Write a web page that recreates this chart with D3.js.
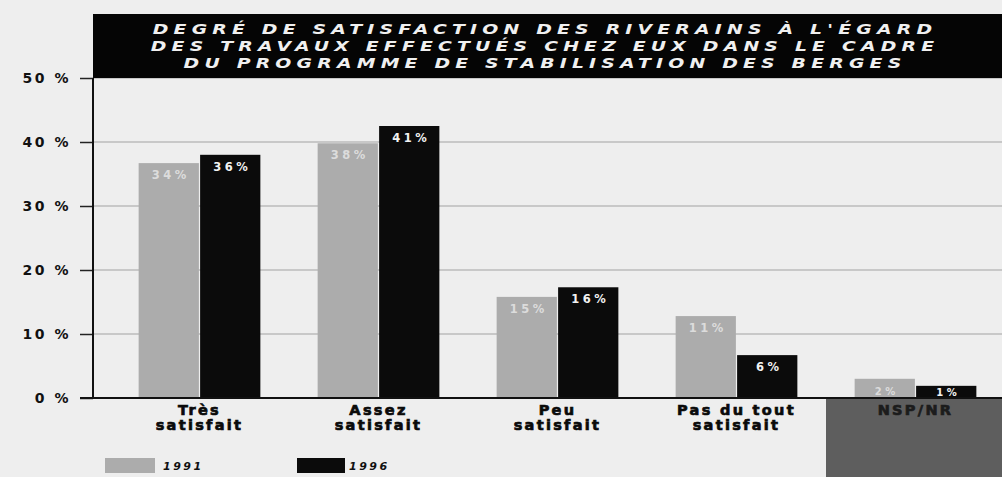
<!DOCTYPE html>
<html lang="fr">
<head>
  <meta charset="UTF-8">
  <title>Degré de satisfaction des riverains</title>
  <script src="https://d3js.org/d3.v7.min.js"></script>
  <style>
    body {
      margin: 0;
      background: #eeeeee;
      font-family: 'DejaVu Sans', sans-serif;
    }
    svg { display: block; }
    .axis text {
      font-family: 'DejaVu Sans', sans-serif;
      font-weight: 700;
      font-size: 14px;
      letter-spacing: 2.5px;
      fill: #111;
    }
    .axis path { display: none; }
    .axis line { stroke: #222; stroke-width: 1.5; }
  </style>
</head>
<body>
  <svg width="1002" height="477"></svg>

  <script>
    // data
    const categories = [["Très", "satisfait"], ["Assez", "satisfait"], ["Peu", "satisfait"], ["Pas du tout", "satisfait"], ["NSP/NR"]];
    const years = ["1991", "1996"];
    // bar heights as drawn in the picture (%)
    const heights1991 = [36.7, 39.8, 15.8, 12.8, 3.0];
    const heights1996 = [38.0, 42.5, 17.3, 6.7, 1.9];
    // printed value labels
    const labels1991 = ["34%", "38%", "15%", "11%", "2%"];
    const labels1996 = ["36%", "41%", "16%", "6%", "1%"];
    const yTicks = [0, 10, 20, 30, 40, 50];
    const titleLines = [
      "DEGRÉ DE SATISFACTION DES RIVERAINS À L'ÉGARD",
      "DES TRAVAUX EFFECTUÉS CHEZ EUX DANS LE CADRE",
      "DU PROGRAMME DE STABILISATION DES BERGES"
    ];

    const colors = { "1991": "#acacac", "1996": "#0b0b0b" };
    const labelColors = { "1991": "#dcdcdc", "1996": "#f2f2f2" };

    const svg = d3.select("svg");
    const plotL = 93, plotR = 1002, plotT = 78, plotB = 398;

    const y = d3.scaleLinear().domain([0, 50]).range([plotB, plotT]);
    const x = d3.scaleBand().domain(d3.range(categories.length))
      .range([110, 1005]).paddingInner(0.32).paddingOuter(0.16);
    const xs = d3.scaleBand().domain(years).range([0, x.bandwidth()]).paddingInner(0.02);

    // scanner shading bottom right
    svg.append("rect")
      .attr("x", 826).attr("y", plotB).attr("width", 176).attr("height", 477 - plotB)
      .attr("fill", "#5e5e5e");

    // gridlines
    svg.append("g").selectAll("line")
      .data(yTicks.slice(1))
      .join("line")
      .attr("x1", plotL).attr("x2", plotR)
      .attr("y1", d => y(d)).attr("y2", d => y(d))
      .attr("stroke", "#a2a2a2").attr("stroke-width", 1.2);

    // title box
    svg.append("rect")
      .attr("x", plotL).attr("y", 14).attr("width", plotR - plotL).attr("height", plotT - 14)
      .attr("fill", "#050505");
    // wide italic lettering: stretch horizontally
    svg.append("g")
      .attr("transform", "translate(545,0) scale(1.3,1)")
      .selectAll("text")
      .data(titleLines)
      .join("text")
      .attr("x", 0)
      .attr("y", (d, i) => 34 + i * 17)
      .attr("text-anchor", "middle")
      .attr("fill", "#f0f0f0")
      .style("font-family", "'DejaVu Sans', sans-serif")
      .style("font-style", "italic")
      .style("font-weight", 700)
      .style("font-size", "14.5px")
      .style("letter-spacing", "4px")
      .text(d => d);

    // y axis
    svg.append("g")
      .attr("class", "axis")
      .attr("transform", `translate(${plotL},0)`)
      .call(d3.axisLeft(y).tickValues(yTicks).tickSize(13).tickPadding(9).tickFormat(d => d + " %"));
    svg.append("line")
      .attr("x1", plotL).attr("x2", plotL).attr("y1", plotT).attr("y2", plotB)
      .attr("stroke", "#111").attr("stroke-width", 2);

    // bars
    const rows = categories.map((c, i) => [
      { year: "1991", i, v: heights1991[i], label: labels1991[i] },
      { year: "1996", i, v: heights1996[i], label: labels1996[i] }
    ]);

    const groups = svg.append("g").selectAll("g")
      .data(rows)
      .join("g")
      .attr("transform", (d, i) => `translate(${x(i)},0)`);

    groups.selectAll("rect")
      .data(d => d)
      .join("rect")
      .attr("x", d => xs(d.year))
      .attr("width", xs.bandwidth())
      .attr("y", d => y(d.v))
      .attr("height", d => y(0) - y(d.v))
      .attr("fill", d => colors[d.year]);

    groups.selectAll("text")
      .data(d => d)
      .join("text")
      .attr("x", d => xs(d.year) + xs.bandwidth() / 2 + 2)
      .attr("y", d => Math.min(y(d.v) + 16, y(0) - 2))
      .attr("text-anchor", "middle")
      .attr("fill", d => labelColors[d.year])
      .style("font-family", "'DejaVu Sans', sans-serif")
      .style("font-weight", 700)
      .style("font-size", d => d.v < 5 ? "10px" : "11.5px")
      .style("letter-spacing", "3.5px")
      .text(d => d.label);

    // baseline
    svg.append("line")
      .attr("x1", plotL - 13).attr("x2", plotR).attr("y1", plotB).attr("y2", plotB)
      .attr("stroke", "#111").attr("stroke-width", 2);

    // category labels
    const cat = svg.append("g").selectAll("text")
      .data(categories)
      .join("text")
      .attr("x", (d, i) => x(i) + x.bandwidth() / 2)
      .attr("y", 415)
      .attr("text-anchor", "middle")
      .attr("fill", d => d.length === 1 ? "#1c1c1c" : "#0a0a0a")
      .attr("stroke", d => d.length === 1 ? "#1c1c1c" : "#0a0a0a")
      .attr("stroke-width", 0.7)
      .style("font-family", "'DejaVu Sans', sans-serif")
      .style("font-weight", 700)
      .style("font-size", "14.5px")
      .style("letter-spacing", "2.3px");
    cat.selectAll("tspan")
      .data(d => d)
      .join("tspan")
      .attr("x", function () { return d3.select(this.parentNode).attr("x"); })
      .attr("dy", (d, i) => i === 0 ? 0 : 15)
      .text(d => d);

    // legend
    const legendX = [105, 297];
    const legend = svg.append("g").selectAll("g")
      .data(years)
      .join("g")
      .attr("transform", (d, i) => `translate(${legendX[i]},458)`);
    legend.append("rect")
      .attr("width", (d, i) => i === 0 ? 50 : 48).attr("height", 15)
      .attr("fill", d => colors[d]);
    legend.append("text")
      .attr("x", (d, i) => i === 0 ? 58 : 52).attr("y", 12)
      .attr("fill", "#111")
      .style("font-family", "'DejaVu Sans', sans-serif")
      .style("font-style", "italic")
      .style("font-weight", 700)
      .style("font-size", "11px")
      .style("letter-spacing", "2.5px")
      .text(d => d);
  </script>
</body>
</html>
